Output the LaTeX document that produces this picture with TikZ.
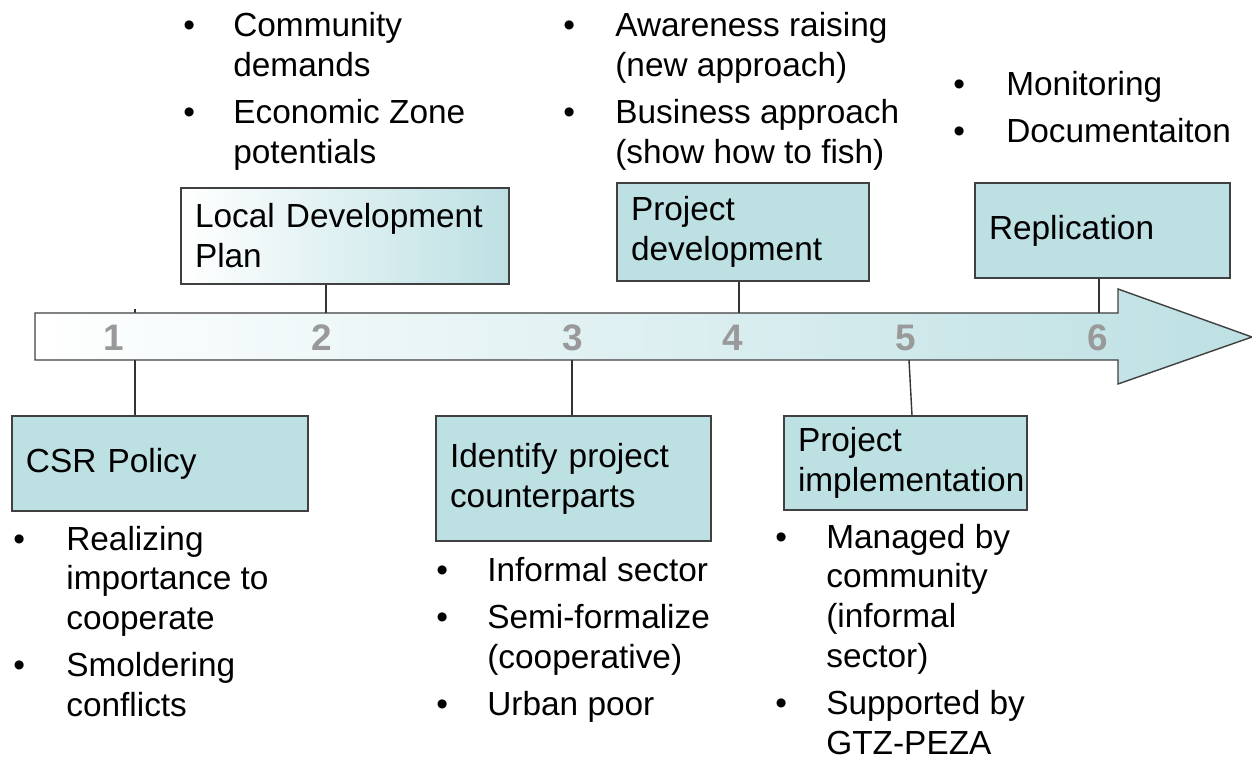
\documentclass[tikz,border=0pt]{standalone}
\usepackage{fontspec}
\setmainfont{Liberation Sans}
\usetikzlibrary{positioning}

\newdimen\pix \pix=0.02cm
\definecolor{stepteal}{RGB}{189,224,227}
\definecolor{numgray}{RGB}{153,153,153}
\definecolor{edgegray}{RGB}{64,64,64}

\begin{document}
\begin{tikzpicture}[x=0.02cm,y=-0.02cm,
    every node/.style={font=\fontsize{19}{22.7}\selectfont},
    box/.style={draw=edgegray,line width=0.8pt,fill=stepteal,inner xsep=14\pix,inner ysep=0pt,align=left},
    num/.style={text=numgray,font=\fontsize{21}{21}\selectfont\bfseries,inner sep=0pt},
    bullets/.style={anchor=base west,inner sep=0pt},
    link/.style={draw=black!80,line width=0.8pt}]

  \useasboundingbox (0,0) rectangle (1252,760);

  % steps above and below the time line
  \node[box,minimum width=296\pix,minimum height=95\pix,text width=268\pix] (csr) at (160,463.5) {CSR Policy};
  \node[box,left color=white,right color=stepteal,minimum width=328\pix,minimum height=96\pix,text width=300\pix] (ldp) at (345,236) {Local Development\\Plan};
  \node[box,minimum width=275\pix,minimum height=125\pix,text width=247\pix] (ident) at (573.5,478.5) {Identify project\\counterparts};
  \node[box,minimum width=252\pix,minimum height=98\pix,text width=224\pix] (pd) at (743,232) {Project\\development};
  \node[box,minimum width=243\pix,minimum height=94\pix,text width=215\pix] (impl) at (905.5,463) {Project\\implementation};
  \node[box,minimum width=255\pix,minimum height=95\pix,text width=227\pix] (repl) at (1102.5,230.5) {Replication};

  \coordinate (t1) at (135,309);
  \draw[link] (t1) -- (csr.north -| t1);

  % the time line
  \path[draw=edgegray,line width=0.8pt,left color=white,right color=stepteal]
    (35,313) -- (1118,313) -- (1118,289) -- (1252,337) -- (1118,384) -- (1118,360) -- (35,360) -- cycle;

  \foreach \n/\x in {1/114,2/322,3/573,4/733,5/906,6/1098}
    \node[num] (n\n) at (\x,338) {\n};

  \coordinate (t2) at (326,313);
  \coordinate (t3) at (572,360);
  \coordinate (t4) at (739,313);
  \coordinate (t5) at (909,360);
  \coordinate (t6) at (1099,313);
  \draw[link] (ldp.south -| t2) -- (t2);
  \draw[link] (t3) -- (ident.north -| t3);
  \draw[link] (pd.south -| t4) -- (t4);
  \draw[link] (t5) -- ([xshift=6.5\pix]impl.north);
  \draw[link] (repl.south -| t6) -- (t6);

  % bullet lists
  \node[bullets] (top2) at (183,37) {\begin{tabular}[t]{@{}p{50\pix}@{}l@{}}
    • & Community\\ & demands\\[4pt]
    • & Economic Zone\\ & potentials
  \end{tabular}};
  \node[bullets] (top4) at (563,37) {\begin{tabular}[t]{@{}p{52\pix}@{}l@{}}
    • & Awareness raising\\ & (new approach)\\[4pt]
    • & Business approach\\ & (show how to fish)
  \end{tabular}};
  \node[bullets] (top6) at (953,96) {\begin{tabular}[t]{@{}p{53\pix}@{}l@{}}
    • & Monitoring\\[4pt]
    • & Documentaiton
  \end{tabular}};
  \node[bullets] (bot1) at (13,550) {\begin{tabular}[t]{@{}p{53\pix}@{}l@{}}
    • & Realizing\\ & importance to\\ & cooperate\\[4pt]
    • & Smoldering\\ & conflicts
  \end{tabular}};
  \node[bullets] (bot3) at (436,582) {\begin{tabular}[t]{@{}p{51\pix}@{}l@{}}
    • & Informal sector\\[4pt]
    • & Semi-formalize\\ & (cooperative)\\[4pt]
    • & Urban poor
  \end{tabular}};
  \node[bullets] (bot5) at (775,548) {\begin{tabular}[t]{@{}p{51\pix}@{}l@{}}
    • & Managed by\\ & community\\ & (informal\\ & sector)\\[4pt]
    • & Supported by\\ & GTZ-PEZA
  \end{tabular}};
\end{tikzpicture}
\end{document}
